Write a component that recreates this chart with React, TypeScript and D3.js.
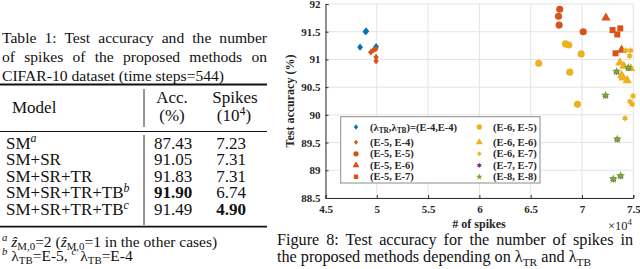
import { useEffect, useRef } from "react";
import * as d3 from "d3";

// ---- Table 1 ----
const tableCaption = [
  "Table 1: Test accuracy and the number",
  "of spikes of the proposed methods on",
  "CIFAR-10 dataset (time steps=544)",
];
const models = ["SM", "SM+SR", "SM+SR+TR", "SM+SR+TR+TB", "SM+SR+TR+TB"];
const modelNotes = ["a", "", "", "b", "c"];
const accuracies = [87.43, 91.05, 91.83, 91.9, 91.49];
const spikeCounts = [7.23, 7.31, 7.31, 6.74, 4.9];

// ---- Figure 8 (x in 1e4 spikes, y in %) ----
const xTicks = [4.5, 5, 5.5, 6, 6.5, 7, 7.5];
const yTicks = [88.5, 89, 89.5, 90, 90.5, 91, 91.5, 92];

const e4e4 = [[4.889, 91.5], [4.898, 91.51], [4.837, 91.22], [4.993, 91.23]];
const e5e4 = [[4.941, 91.13], [4.967, 91.17], [4.99, 91.19], [4.993, 91.04], [4.993, 90.97]];
const e5e5 = [[6.783, 91.905], [6.771, 91.78], [6.777, 91.62], [7.012, 91.5]];
const e5e6 = [[7.233, 91.75], [7.386, 91.17]];
const e5e7 = [[7.298, 91.53], [7.344, 91.45], [7.373, 91.56], [7.327, 91.11]];
const e6e5 = [[6.578, 90.93], [6.839, 91.28], [6.871, 91.26], [6.992, 91.1], [6.881, 90.77], [6.956, 90.19]];
const e6e6 = [[7.369, 90.94], [7.408, 90.88], [7.474, 90.84], [7.386, 90.71], [7.4, 90.67], [7.441, 90.62]];
const e6e7 = [[7.425, 91.16], [7.474, 91.16], [7.464, 91.06], [7.498, 90.34], [7.467, 90.24], [7.49, 90.19], [7.42, 89.94]];
const e7e7 = [[7.337, 90.78], [7.451, 90.85], [7.229, 90.35], [7.344, 89.56], [7.305, 88.84], [7.376, 88.9]];
const e8e8 = [[7.337, 90.78], [7.451, 90.85], [7.229, 90.35], [7.344, 89.56], [7.305, 88.84], [7.376, 88.9]];

const legendLabels = ["(E-4,E-4)", "(E-5, E-4)", "(E-5, E-5)", "(E-5, E-6)", "(E-5, E-7)",
  "(E-6, E-5)", "(E-6, E-6)", "(E-6, E-7)", "(E-7, E-7)", "(E-8, E-8)"];

const FONT = "'Liberation Serif', 'Times New Roman', Times, serif";

type Seg = { t: string; k?: "sub" | "sup"; i?: boolean; b?: boolean };

const diamondType = {
  draw(ctx: any, size: number) {
    const r = (Math.sqrt(size) / 2) * 1.15;
    ctx.moveTo(0, -r);
    ctx.lineTo(r * 0.8, 0);
    ctx.lineTo(0, r);
    ctx.lineTo(-r * 0.8, 0);
    ctx.closePath();
  },
};
const hexagramType = {
  draw(ctx: any, size: number) {
    const r = (Math.sqrt(size) / 2) * 1.2;
    const ri = r / Math.sqrt(3);
    for (let i = 0; i < 12; i++) {
      const a = (i * Math.PI) / 6 - Math.PI / 2;
      const rr = i % 2 ? ri : r;
      if (i) ctx.lineTo(rr * Math.cos(a), rr * Math.sin(a));
      else ctx.moveTo(rr * Math.cos(a), rr * Math.sin(a));
    }
    ctx.closePath();
  },
};

function rich(parent: any, x: number, y: number, segs: Seg[], fs: number, anchor = "start") {
  const text = parent.append("text").attr("x", x).attr("y", y)
    .attr("font-size", fs).attr("text-anchor", anchor);
  let cur = 0;
  segs.forEach((s) => {
    const shift = s.k === "sup" ? -0.38 * fs : s.k === "sub" ? 0.25 * fs : 0;
    const ts = text.append("tspan").text(s.t);
    if (shift - cur !== 0) ts.attr("dy", shift - cur);
    if (s.k) ts.attr("font-size", fs * 0.7);
    if (s.i) ts.attr("font-style", "italic");
    if (s.b) ts.attr("font-weight", "bold");
    cur = shift;
  });
  return text;
}

function justify(sel: any, width: number) {
  const node = sel.node() as SVGTextElement;
  const nat = node.getComputedTextLength();
  const spaces = (node.textContent || "").split(" ").length - 1;
  if (spaces > 0) sel.style("word-spacing", `${(width - nat) / spaces}px`);
}

export default function App() {
  const ref = useRef<SVGSVGElement>(null);

  useEffect(() => {
    const svg = d3.select(ref.current);
    svg.selectAll("*").remove();
    svg.attr("font-family", FONT).attr("fill", "#111");

    // ---------- table ----------
    const tb = svg.append("g");
    const capY = [42.5, 61.5, 80.5];
    tableCaption.forEach((line, i) => {
      const t = tb.append("text").attr("x", 2).attr("y", capY[i]).attr("font-size", 15.6).text(line);
      if (i < 2) justify(t, 265);
    });
    const rule = (y: number, w: number) =>
      tb.append("line").attr("x1", 0).attr("x2", 267).attr("y1", y).attr("y2", y)
        .attr("stroke", "#111").attr("stroke-width", w);
    rule(84.5, 1.8);
    rule(131.5, 1);
    rule(226.7, 1.8);
    tb.append("line").attr("x1", 144).attr("x2", 144).attr("y1", 89).attr("y2", 127)
      .attr("stroke", "#111").attr("stroke-width", 0.9);
    tb.append("line").attr("x1", 144).attr("x2", 144).attr("y1", 135).attr("y2", 225)
      .attr("stroke", "#111").attr("stroke-width", 0.9);

    tb.append("text").attr("x", 12).attr("y", 113).attr("font-size", 17).text("Model");
    tb.append("text").attr("x", 172).attr("y", 103).attr("font-size", 17).attr("text-anchor", "middle").text("Acc.");
    tb.append("text").attr("x", 172).attr("y", 121).attr("font-size", 17).attr("text-anchor", "middle").text("(%)");
    tb.append("text").attr("x", 235).attr("y", 103).attr("font-size", 17).attr("text-anchor", "middle").text("Spikes");
    rich(tb, 234, 121, [{ t: "(10" }, { t: "4", k: "sup" }, { t: ")" }], 17, "middle");

    const rowY = d3.scaleLinear().domain([0, models.length - 1]).range([148.5, 215]);
    const bestAcc = d3.max(accuracies) as number;
    const bestSpk = d3.min(spikeCounts) as number;
    models.forEach((m, i) => {
      const segs: Seg[] = [{ t: m }];
      if (modelNotes[i]) segs.push({ t: modelNotes[i], k: "sup", i: true });
      rich(tb, 6, rowY(i), segs, 17);
      tb.append("text").attr("x", 173).attr("y", rowY(i)).attr("font-size", 17)
        .attr("text-anchor", "middle").attr("font-weight", accuracies[i] === bestAcc ? "bold" : null)
        .text(accuracies[i].toFixed(2));
      tb.append("text").attr("x", 231).attr("y", rowY(i)).attr("font-size", 17)
        .attr("text-anchor", "middle").attr("font-weight", spikeCounts[i] === bestSpk ? "bold" : null)
        .text(spikeCounts[i].toFixed(2));
    });

    rich(tb, 2, 246.5, [
      { t: "a", k: "sup", i: true }, { t: " " }, { t: "ẑ", i: true }, { t: "M,0", k: "sub" },
      { t: "=2 (" }, { t: "ẑ", i: true }, { t: "M,0", k: "sub" }, { t: "=1 in the other cases)" },
    ], 15.5);
    rich(tb, 2, 260.5, [
      { t: "b", k: "sup", i: true }, { t: " λ" }, { t: "TB", k: "sub" }, { t: "=E-5, " },
      { t: "c", k: "sup", i: true }, { t: " λ" }, { t: "TB", k: "sub" }, { t: "=E-4" },
    ], 15.5);

    // ---------- figure ----------
    const x = d3.scaleLinear().domain([4.5, 7.5]).range([325.5, 633.3]);
    const y = d3.scaleLinear().domain([88.5, 92]).range([198, 4]);
    const fg = svg.append("g");

    fg.selectAll(".gx").data(xTicks).enter().append("line")
      .attr("x1", (d) => x(d)).attr("x2", (d) => x(d)).attr("y1", y(88.5)).attr("y2", y(92))
      .attr("stroke", "#e4e4e4").attr("stroke-width", 1);
    fg.selectAll(".gy").data(yTicks).enter().append("line")
      .attr("x1", x(4.5)).attr("x2", x(7.5)).attr("y1", (d) => y(d)).attr("y2", (d) => y(d))
      .attr("stroke", "#e4e4e4").attr("stroke-width", 1);

    const xAxis = fg.append("g").attr("transform", `translate(0,${y(88.5)})`)
      .call(d3.axisBottom(x).tickValues(xTicks).tickSize(-3).tickPadding(7).tickFormat(d3.format("")));
    const yAxis = fg.append("g").attr("transform", `translate(${x(4.5)},0)`)
      .call(d3.axisLeft(y).tickValues(yTicks).tickSize(-3).tickPadding(5).tickFormat(d3.format("")));
    [xAxis, yAxis].forEach((a) => {
      a.select(".domain").attr("stroke", "#333").attr("stroke-width", 1);
      a.selectAll(".tick line").attr("stroke", "#333");
      a.selectAll(".tick text").attr("font-family", FONT).attr("font-size", 11)
        .attr("font-weight", "bold").attr("fill", "#262626");
    });

    fg.append("text").attr("x", 479).attr("y", 228).attr("text-anchor", "middle")
      .attr("font-size", 12).attr("font-weight", "bold").attr("fill", "#262626").text("# of spikes");
    rich(fg, 608, 230, [{ t: "×10" }, { t: "4", k: "sup" }], 12.5).attr("fill", "#262626");
    fg.append("text").attr("transform", "translate(294,101) rotate(-90)").attr("text-anchor", "middle")
      .attr("font-size", 12).attr("font-weight", "bold").attr("fill", "#262626").text("Test accuracy (%)");

    const blue = "#0072BD", red = "#D95319", yel = "#EDB120", pur = "#7E2F8E", grn = "#77AC30";
    const series = [
      { data: e4e4, color: blue, type: diamondType, size: 40 },
      { data: e5e4, color: red, type: diamondType, size: 34 },
      { data: e5e5, color: red, type: d3.symbolCircle, size: 40 },
      { data: e5e6, color: red, type: d3.symbolTriangle, size: 38 },
      { data: e5e7, color: red, type: d3.symbolSquare, size: 36 },
      { data: e6e5, color: yel, type: d3.symbolCircle, size: 40 },
      { data: e6e6, color: yel, type: d3.symbolTriangle, size: 38 },
      { data: e6e7, color: yel, type: hexagramType, size: 34 },
      { data: e7e7, color: pur, type: hexagramType, size: 36 },
      { data: e8e8, color: grn, type: d3.symbolStar, size: 26 },
    ];
    series.forEach((s) => {
      fg.append("g").selectAll("path").data(s.data).enter().append("path")
        .attr("transform", (d) => `translate(${x(d[0])},${y(d[1])})`)
        .attr("d", d3.symbol().type(s.type as any).size(s.size)())
        .attr("fill", s.color);
    });

    // legend
    const lg = fg.append("g");
    lg.append("rect").attr("x", 340.7).attr("y", 116.7).attr("width", 199.3).attr("height", 66.3)
      .attr("fill", "#fff").attr("stroke", "#8c8c8c").attr("stroke-width", 1);
    const rowsY = [127, 142.3, 153.8, 165.3, 176.8];
    series.forEach((s, i) => {
      const col = Math.floor(i / 5), row = i % 5;
      const mx = col ? 479.3 : 356, tx = col ? 493 : 370, cy = rowsY[row];
      lg.append("path").attr("transform", `translate(${mx},${cy})`)
        .attr("d", d3.symbol().type(s.type as any).size(s.size * 0.55)())
        .attr("fill", s.color);
      const segs: Seg[] = i === 0
        ? [{ t: "(λ" }, { t: "TR", k: "sub" }, { t: ",λ" }, { t: "TB", k: "sub" }, { t: ")=" + legendLabels[0] }]
        : [{ t: legendLabels[i] }];
      rich(lg, tx, cy + 3.6, segs, 10.5).attr("font-weight", "bold").attr("fill", "#262626");
    });

    // figure caption
    const c1 = fg.append("text").attr("x", 277).attr("y", 244.5).attr("font-size", 16.2)
      .text("Figure 8: Test accuracy for the number of spikes in");
    justify(c1, 356);
    rich(fg, 277, 261.5, [
      { t: "the proposed methods depending on λ" }, { t: "TR", k: "sub" },
      { t: " and λ" }, { t: "TB", k: "sub" },
    ], 16.2);
  }, []);

  return (
    <svg ref={ref} width={640} height={269}
      style={{ position: "absolute", left: 0, top: 0, background: "#fff" }} />
  );
}
